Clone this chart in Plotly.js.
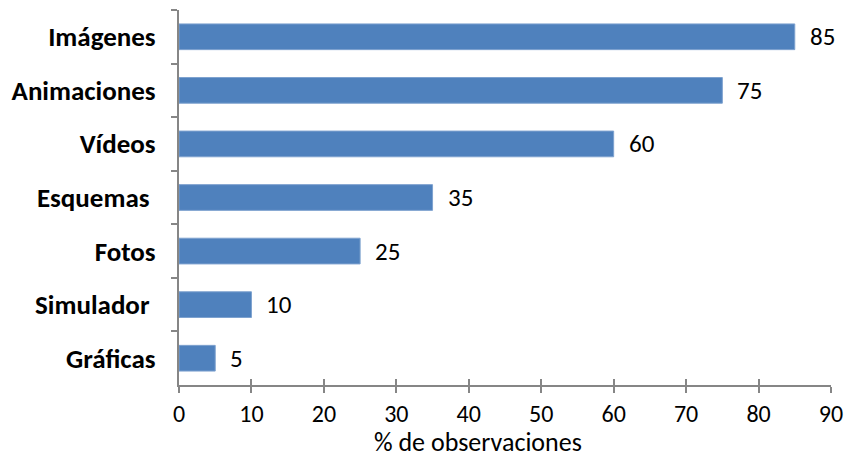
<!DOCTYPE html>
<html>
<head>
<meta charset="utf-8">
<script src="https://cdn.plot.ly/plotly-3.0.1.min.js"></script>
<style>html,body{margin:0;padding:0;background:#fff}#chart{width:847px;height:461px}</style>
</head>
<body>
<div id="chart"></div>
<script>
const categories = ['Imágenes', 'Animaciones', 'Vídeos', 'Esquemas ', 'Fotos', 'Simulador ', 'Gráficas'];
const values = [85, 75, 60, 35, 25, 10, 5];
const xTicks = [0, 10, 20, 30, 40, 50, 60, 70, 80, 90];
const xTitle = '% de observaciones';

const FONT = 'Calibri, Carlito, "Open Sans", "Noto Sans", sans-serif';
const AXIS = '#868686';

const trace = {
  type: 'bar', orientation: 'h',
  x: values, y: categories,
  marker: {color: '#4F81BD', line: {color: '#7EA2CF', width: 1}},
  hoverinfo: 'none'
};

const annotations = values.map((v, i) => ({
  x: v, y: categories[i], xref: 'x', yref: 'y',
  text: String(v), showarrow: false, xanchor: 'left', xshift: 13,
  font: {family: FONT, size: 25, color: '#000'}
}));
annotations.push({
  text: xTitle, xref: 'paper', yref: 'paper', x: 0.4586, y: -0.152,
  xanchor: 'center', yanchor: 'middle', showarrow: false,
  font: {family: FONT, size: 26, color: '#000'}
});

const layout = {
  width: 847, height: 461,
  margin: {l: 179, r: 16, t: 10, b: 76},
  paper_bgcolor: '#fff', plot_bgcolor: '#fff',
  showlegend: false,
  bargap: 0.52,
  xaxis: {
    range: [0, 90], tickvals: xTicks, ticktext: xTicks.map(String),
    showgrid: false, zeroline: false,
    showline: true, linecolor: AXIS, linewidth: 2,
    ticks: 'outside', ticklen: 6, tickwidth: 2, tickcolor: AXIS,
    tickfont: {family: FONT, size: 24, color: '#000'},
    fixedrange: true
  },
  xaxis2: {
    overlaying: 'x', matches: 'x', range: [0, 90], tickvals: xTicks,
    showticklabels: false, showgrid: false, zeroline: false, showline: false,
    ticks: 'inside', ticklen: 6, tickwidth: 2, tickcolor: AXIS, side: 'bottom'
  },
  yaxis: {
    type: 'category', autorange: 'reversed',
    showgrid: false, zeroline: false,
    showline: true, linecolor: AXIS, linewidth: 2,
    ticks: 'outside', ticklen: 6, tickwidth: 2, tickcolor: AXIS, tickson: 'boundaries',
    ticklabelstandoff: 16,
    tickfont: {family: FONT, size: 27, color: '#000', weight: 'bold'},
    fixedrange: true
  },
  annotations: annotations
};

const ghost = {type: 'scatter', x: [0], y: [categories[0]], xaxis: 'x2', mode: 'markers', marker: {opacity: 0}, hoverinfo: 'none'};

Plotly.newPlot('chart', [trace, ghost], layout, {displayModeBar: false, staticPlot: true});
</script>
</body>
</html>
